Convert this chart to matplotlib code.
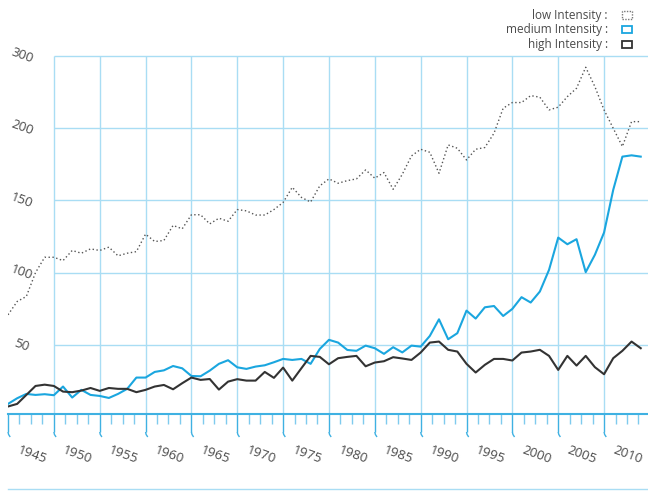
import numpy as np
import matplotlib
matplotlib.use("Agg")
import matplotlib.pyplot as plt
from matplotlib.patches import Rectangle

# data (one value per year, 1942-2011)
years = np.arange(1942, 2012)

low_intensity = [70.8, 80.0, 83.5, 100.0, 110.6, 110.6, 108.3, 115.3, 113.4, 116.4,
                 115.3, 117.6, 111.6, 113.4, 114.5, 126.6, 121.5, 122.2, 132.6, 130.3,
                 140.0, 140.0, 133.7, 137.6, 135.5, 143.6, 142.7, 139.8, 139.8, 143.6,
                 148.5, 159.0, 152.0, 148.8, 160.0, 164.8, 161.8, 163.6, 164.8, 171.0,
                 165.3, 169.2, 157.6, 168.0, 180.7, 185.3, 183.2, 168.7, 188.3, 186.0,
                 177.9, 185.3, 186.5, 196.4, 213.7, 217.6, 217.6, 222.4, 221.3, 212.5,
                 214.4, 221.7, 227.5, 242.0, 228.6, 212.5, 199.8, 187.2, 204.4, 204.4]

medium_intensity = [9.2, 13.1, 16.1, 15.4, 15.9, 15.2, 21.2, 13.6, 18.9, 15.4,
                    14.7, 13.3, 16.1, 19.6, 27.4, 27.4, 31.3, 32.4, 35.4, 33.8,
                    28.5, 28.3, 32.2, 36.9, 39.4, 34.5, 33.4, 35.0, 35.9, 38.0,
                    40.3, 39.6, 40.3, 36.9, 47.2, 53.5, 51.6, 46.5, 45.9, 49.5,
                    47.7, 43.8, 48.4, 44.8, 49.5, 48.8, 56.2, 67.7, 53.9, 58.1,
                    73.7, 68.2, 76.0, 76.9, 70.0, 74.9, 83.0, 79.3, 86.9, 101.9,
                    124.2, 119.6, 123.1, 100.3, 112.3, 127.7, 157.2, 180.2, 181.1, 180.2]

high_intensity = [7.4, 9.2, 15.4, 21.6, 22.5, 21.6, 17.7, 17.3, 18.4, 20.2,
                  18.2, 20.2, 19.6, 19.6, 17.3, 18.9, 21.2, 22.3, 19.3, 23.5,
                  27.4, 25.8, 26.4, 19.1, 24.6, 26.3, 25.3, 25.3, 31.3, 27.2,
                  34.3, 25.3, 33.9, 42.4, 41.7, 36.6, 40.8, 41.7, 42.4, 35.2,
                  37.8, 38.7, 41.5, 40.6, 39.6, 44.7, 51.6, 52.3, 46.6, 45.4,
                  36.9, 30.9, 36.2, 40.3, 40.3, 39.2, 44.7, 45.4, 46.6, 42.4,
                  32.7, 42.4, 35.7, 42.4, 34.6, 29.7, 40.8, 45.9, 52.3, 47.7]

# y grid positions and the labels printed next to them (as in the reference)
y_grid = [50, 100, 150, 200, 250]
y_labels = ["50", "100", "150", "200", "300"]
x_labels = list(range(1945, 2011, 5))
legend_names = ["low Intensity :", "medium Intensity :", "high Intensity :"]

grid_col = "#a9ddf4"
axis_col = "#3fb1e2"
text_col = "#4a4a4a"
blue = "#1aa6df"
dark = "#333333"
font = "Open Sans"

W, H = 648, 491
px_x = 9.17    # pixels per year
px_y = 1.446   # pixels per unit

fig = plt.figure(figsize=(W / 100, H / 100), dpi=100)
# plot area: x from px 8 to 648, y from px 55.7 (top) to 414.3 (axis)
ax = fig.add_axes([8 / W, (H - 414.3) / H, 640 / W, (414.3 - 55.7) / H])
x_max = 1942 + 640 / px_x
ax.set_xlim(1942, x_max)
ax.set_ylim(2, 250)

# grid
ax.hlines(y_grid, 1947, x_max, color=grid_col, lw=1, zorder=1, clip_on=False)
ax.vlines(np.arange(1947, 2010, 5), 2, 250, color=grid_col, lw=1, zorder=1)

# series
ax.plot(years, low_intensity, color="#555555", lw=1, ls=(0, (1, 1.8)), zorder=3)
ax.plot(years, medium_intensity, color=blue, lw=1.5, zorder=4)
ax.plot(years, high_intensity, color=dark, lw=1.5, zorder=5)

# axes styling
for s in ["top", "left", "right"]:
    ax.spines[s].set_visible(False)
ax.spines["bottom"].set_color(axis_col)
ax.spines["bottom"].set_linewidth(1.5)
ax.set_yticks([])
majors = np.arange(1942, x_max, 5)
ax.set_xticks(majors)
ax.set_xticks(np.arange(1942, x_max, 1.25), minor=True)
ax.tick_params(axis="x", which="major", length=13, width=1, color=axis_col, labelbottom=False)
ax.tick_params(axis="x", which="minor", length=7, width=1, color="#7fcbee")

# little hook at the end of each major tick
def px_to_val(py):
    return 2 - (py - 414.3) / px_y

for mx in majors:
    ax.plot([mx, mx + 0.6 / px_x, mx + 2.2 / px_x],
            [px_to_val(432), px_to_val(434.5), px_to_val(437)],
            color=axis_col, lw=1, clip_on=False, solid_capstyle="butt")

# tick labels drawn as text, rotated like the reference
for yv, lab in zip(y_grid, y_labels):
    ax.text(1943.5, yv, lab, rotation=-20, ha="center", va="center",
            fontsize=9.5, color=text_col, family=font, clip_on=False)
for yr in x_labels:
    ax.text(yr - 0.4, px_to_val(455), str(yr), rotation=-20, ha="center", va="center",
            fontsize=9.5, color=text_col, family=font, clip_on=False)

# thin line at the very bottom
ax.axhline(px_to_val(489), color=grid_col, lw=1, clip_on=False)

# legend
for i, name in enumerate(legend_names):
    yc = 15 + 14.7 * i
    fig.text(608 / W, 1 - yc / H, name, ha="right", va="center",
             fontsize=8.5, color=text_col, family=font)
styles = [dict(ec="#777777", ls=(0, (1, 1)), lw=1),
          dict(ec=blue, lw=1.3),
          dict(ec=dark, lw=1.3)]
for i, st in enumerate(styles):
    yc = 15 + 14.7 * i
    fig.add_artist(Rectangle((622 / W, 1 - (yc + 3.5) / H), 10 / W, 7 / H,
                             transform=fig.transFigure, fill=False, **st))

fig.savefig("out.png", dpi=100)
